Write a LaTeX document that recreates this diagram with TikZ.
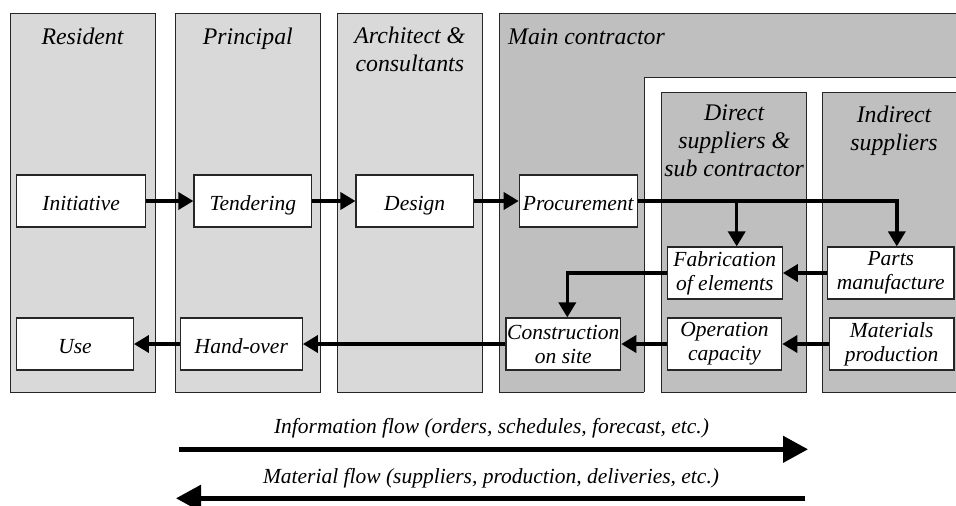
\documentclass[tikz,border=0pt]{standalone}
\usepackage{fontspec}
\setmainfont{Liberation Serif}
\usetikzlibrary{arrows.meta}
\tikzset{
  lightcol/.style={draw=black!85, line width=1pt, fill=black!15},
  darkcol/.style={draw=black!85, line width=1pt, fill=black!25},
  head/.style={inner sep=0pt, align=center, anchor=base, font=\fontsize{23.8}{28}\selectfont\itshape},
  box/.style={draw=black!85, line width=1.2pt, fill=white, inner sep=0pt, align=center,
    minimum height=52pt, font=\fontsize{21.5}{24}\selectfont\itshape},
  oneline/.style={text height=20pt, text depth=2pt},
  flow/.style={line width=3.5pt, -{Triangle[length=15pt,width=17pt]}},
  bigflow/.style={line width=4.5pt, -{Triangle[length=25pt,width=26pt]}},
  caption/.style={inner sep=0pt, font=\fontsize{21.5}{24}\selectfont\itshape}
}
\begin{document}
\begin{tikzpicture}[x=1pt,y=-1pt]
\useasboundingbox[fill=white] (0,0) rectangle (956,506);
% columns
\path[lightcol] (10,13.3) rectangle (155,392.3);
\path[lightcol] (175.7,13.3) rectangle (320,392.3);
\path[lightcol] (337.7,13.3) rectangle (482,392.3);
\path[darkcol] (499.3,13.3) rectangle (975,392.3);
\fill[white] (644,77.7) rectangle (975,400);
\draw[black!85, line width=1pt] (644,392.3) -- (644,77.7) -- (975,77.7);
\path[darkcol] (661.7,92.3) rectangle (806.7,392.3);
\path[darkcol] (822.3,92.3) rectangle (975,392.3);
% headers (base = baseline of the last line)
\node[head] (hres) at (82.5,44) {Resident};
\node[head] (hpri) at (247.8,44) {Principal};
\node[head] (harc) at (409.8,71.7) {Architect \&\\consultants};
\node[head, anchor=base west] (hmain) at (508,44) {Main contractor};
\node[head] (hdir) at (734.2,176.7) {Direct\\suppliers \&\\sub contractor};
\node[head] (hind) at (894,150) {Indirect\\suppliers};
% boxes
\node[box, oneline, minimum width=129pt] (init) at (81.2,201) {Initiative};
\node[box, oneline, minimum width=117.7pt] (tend) at (252.8,201) {Tendering};
\node[box, oneline, minimum width=117.3pt] (des) at (414.7,201) {Design};
\node[box, oneline, minimum width=118pt] (proc) at (578.3,201) {Procurement};
\node[box, minimum width=115pt] (fab) at (724.8,273) {Fabrication\\of elements};
\node[box, minimum width=126.3pt] (parts) at (890.8,273) {Parts\\manufacture};
\node[box, oneline, minimum width=116.6pt] (use) at (75,344) {Use};
\node[box, oneline, minimum width=122pt] (hand) at (241.3,344) {Hand-over};
\node[box, minimum width=114.7pt] (cons) at (563.3,344) {Construction\\on site};
\node[box, minimum width=114.4pt] (oper) at (724.5,344) {Operation\\capacity};
\node[box, minimum width=124.7pt] (mat) at (891.7,344) {Materials\\production};
% connectors
\draw[flow] (init) -- (tend);
\draw[flow] (tend) -- (des);
\draw[flow] (des) -- (proc);
\draw[flow] (proc.east) -| ([xshift=6pt]parts.north);
\coordinate (br) at (736.7,201);
\draw[flow] (br) -- (br |- fab.north);
\draw[flow] (parts) -- (fab);
\draw[flow] (fab.west) -| ([xshift=4pt]cons.north);
\draw[flow] (mat) -- (oper);
\draw[flow] (oper) -- (cons);
\draw[flow] (cons) -- (hand);
\draw[flow] (hand) -- (use);
% legend
\node[caption] (info) at (491.5,428) {Information flow (orders, schedules, forecast, etc.)};
\coordinate (i1) at (179.3,449.3);
\coordinate (i2) at (808,449.3);
\draw[bigflow] (i1) -- (i2);
\node[caption] (matf) at (491,478) {Material flow (suppliers, production, deliveries, etc.)};
\coordinate (m1) at (805,498.3);
\coordinate (m2) at (176,498.3);
\draw[bigflow] (m1) -- (m2);
\end{tikzpicture}
\end{document}
